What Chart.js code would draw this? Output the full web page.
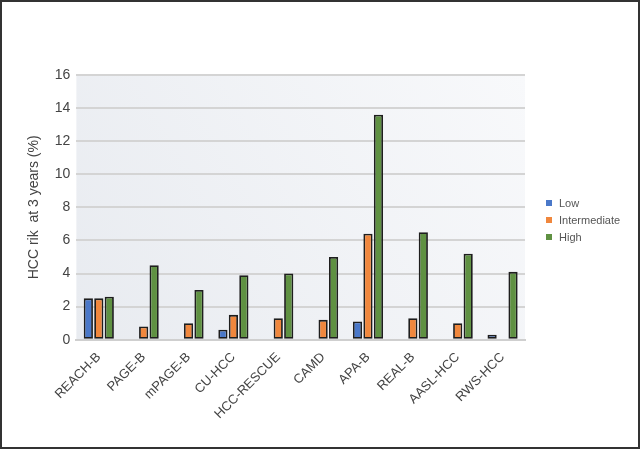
<!DOCTYPE html>
<html>
<head>
<meta charset="utf-8">
<script src="https://cdn.jsdelivr.net/npm/chart.js@4/dist/chart.umd.min.js"></script>
<style>
    html, body { margin: 0; padding: 0; background: #fff; }
    #wrap { width: 640px; height: 450px; position: relative; }
</style>
</head>
<body>
<div id="wrap"><canvas id="hccChart" width="640" height="450"></canvas></div>
<script>
const categories = ['REACH-B', 'PAGE-B', 'mPAGE-B', 'CU-HCC', 'HCC-RESCUE', 'CAMD', 'APA-B', 'REAL-B', 'AASL-HCC', 'RWS-HCC'];
const lowRisk = [2.5, 0, 0, 0.6, 0, 0, 1.1, 0, 0, 0.3];
const intermediateRisk = [2.5, 0.8, 1.0, 1.5, 1.3, 1.2, 6.4, 1.3, 1.0, 0];
const highRisk = [2.6, 4.5, 3.0, 3.9, 4.0, 5.0, 13.6, 6.5, 5.2, 4.1];
const yTicks = [0, 2, 4, 6, 8, 10, 12, 14, 16];

const FONT = 'Liberation Sans, Arial, sans-serif';

// background gradient, outer frame and a small legend to the right
const framePlugin = {
    id: 'frame',
    beforeDraw: function (chart) {
        const ctx = chart.ctx;
        const a = chart.chartArea;
        ctx.save();
        ctx.fillStyle = '#ffffff';
        ctx.fillRect(0, 0, chart.width, chart.height);
        const g = ctx.createLinearGradient(a.left, a.bottom, a.right, a.top);
        g.addColorStop(0, '#e8ebf0');
        g.addColorStop(1, '#f8f9fb');
        ctx.fillStyle = g;
        ctx.fillRect(a.left, a.top, a.right - a.left, a.bottom - a.top);
        ctx.restore();
    },
    afterDraw: function (chart) {
        const ctx = chart.ctx;
        ctx.save();
        // legend
        ctx.font = '11px ' + FONT;
        ctx.textBaseline = 'middle';
        chart.data.datasets.forEach(function (ds, i) {
            const y = 203 + i * 17;
            ctx.fillStyle = ds.backgroundColor;
            ctx.fillRect(546, y - 3, 6, 6);
            ctx.fillStyle = '#555555';
            ctx.fillText(ds.label, 559, y + 0.5);
        });
        // frame
        ctx.strokeStyle = '#333333';
        ctx.lineWidth = 2;
        ctx.strokeRect(1, 1, chart.width - 2, chart.height - 3);
        ctx.restore();
    }
};

const ctx = document.getElementById('hccChart').getContext('2d');
new Chart(ctx, {
    type: 'bar',
    data: {
        labels: categories,
        datasets: [
            { label: 'Low', data: lowRisk, backgroundColor: '#4a78c9' },
            { label: 'Intermediate', data: intermediateRisk, backgroundColor: '#f0873d' },
            { label: 'High', data: highRisk, backgroundColor: '#5f9142' }
        ].map(d => Object.assign(d, {
            borderColor: '#1e1e1e',
            borderWidth: 1.8,
            borderSkipped: false,
            categoryPercentage: 0.7,
            barPercentage: 0.88
        }))
    },
    options: {
        responsive: false,
        animation: false,
        layout: { padding: { top: 75, right: 115, bottom: 26, left: 24 } },
        plugins: {
            legend: { display: false },
            tooltip: { enabled: false }
        },
        scales: {
            x: {
                grid: { display: false },
                border: { color: '#cfcfcf', width: 2 },
                ticks: {
                    color: '#444444',
                    maxRotation: 45,
                    minRotation: 45,
                    padding: 2,
                    font: { family: FONT, size: 13 }
                }
            },
            y: {
                min: 0,
                max: 16,
                afterBuildTicks: function (axis) {
                    axis.ticks = yTicks.map(v => ({ value: v }));
                },
                grid: { color: '#d4d4d4', lineWidth: 2, drawTicks: false },
                border: { display: false },
                ticks: {
                    color: '#444444',
                    padding: 6,
                    font: { family: FONT, size: 14 }
                },
                title: {
                    display: true,
                    text: 'HCC rik  at 3 years (%)',
                    color: '#444444',
                    padding: { top: 2, bottom: 6 },
                    font: { family: FONT, size: 14 }
                }
            }
        }
    },
    plugins: [framePlugin]
});
</script>
</body>
</html>
